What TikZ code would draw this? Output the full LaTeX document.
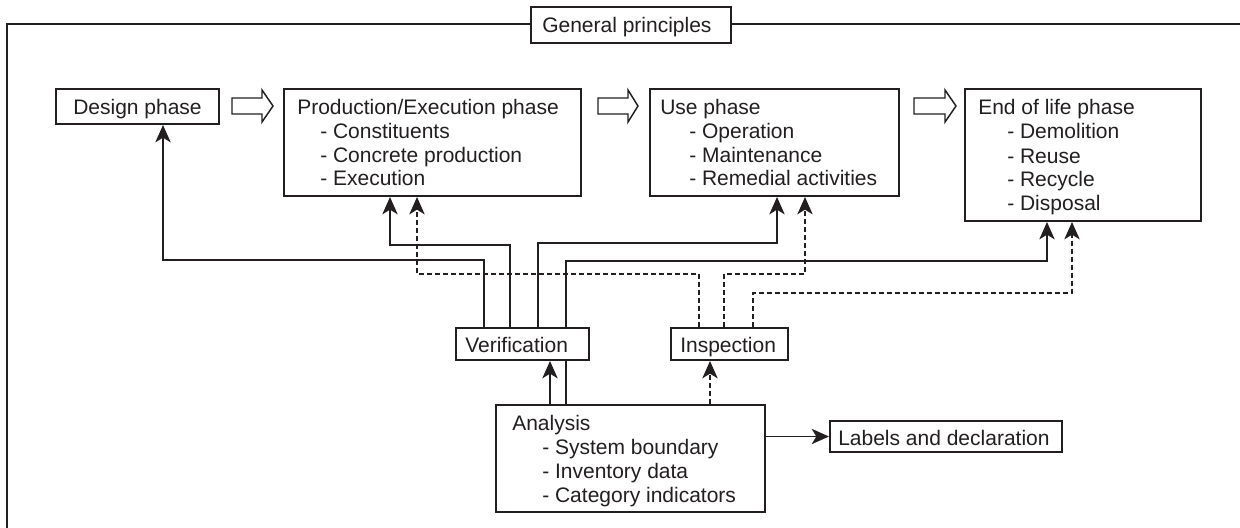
\documentclass[tikz,border=0pt]{standalone}
\usepackage{fontspec}
\setmainfont{Liberation Sans}
\usetikzlibrary{fit,arrows.meta}
\definecolor{ink}{HTML}{231F20}
\begin{document}
\begin{tikzpicture}[x=0.75pt,y=-0.75pt,color=ink,
  box/.style={draw=ink,line width=1.5pt,inner sep=0pt,fill=white},
  txt/.style={inner sep=0pt,text=ink,font=\fontsize{15.75}{18}\selectfont},
  conn/.style={draw=ink,line width=1.1pt},
  arr/.style={conn,-{Stealth[length=13pt,width=11.5pt,inset=3.5pt]}},
  dsh/.style={dash pattern=on 3.75pt off 2.25pt},
  hollow/.style={draw=ink,line width=1.1pt,fill=white,line join=miter}]
\useasboundingbox (0,0) rectangle (1240,528);
% frame
\draw[ink,line width=1.2pt] (1240,24) -- (7,24) -- (7,528);
% boxes
\node[box,fit={(531,7) (731,43)}] (gp) {};
\node[txt,anchor=base west] at (542,33) {General principles};
\node[box,fit={(56,89) (219,124)}] (design) {};
\node[txt,anchor=base west] at (73,115) {Design phase};
\node[box,fit={(284,89) (581,196)}] (prod) {};
\node[txt,anchor=base west] at (297,114) {\begin{tabular}[t]{@{}l@{}}Production/Execution phase\\
  \hspace*{17.25pt}- Constituents\\ \hspace*{17.25pt}- Concrete production\\ \hspace*{17.25pt}- Execution\end{tabular}};
\node[box,fit={(650,89) (899,196)}] (use) {};
\node[txt,anchor=base west] at (660,114) {\begin{tabular}[t]{@{}l@{}}Use phase\\
  \hspace*{21.75pt}- Operation\\ \hspace*{21.75pt}- Maintenance\\ \hspace*{21.75pt}- Remedial activities\end{tabular}};
\node[box,fit={(965,89) (1201,221)}] (eol) {};
\node[txt,anchor=base west] at (978,115) {\begin{tabular}[t]{@{}l@{}}End of life phase\\
  \hspace*{21.75pt}- Demolition\\ \hspace*{21.75pt}- Reuse\\ \hspace*{21.75pt}- Recycle\\ \hspace*{21.75pt}- Disposal\end{tabular}};
\node[box,fit={(456,328) (589,360)}] (verif) {};
\node[txt,anchor=base west] at (465,352) {Verification};
\node[box,fit={(671,328) (788,360)}] (insp) {};
\node[txt,anchor=base west] at (680,352) {Inspection};
\node[box,fit={(496,405) (765,512)}] (analysis) {};
\node[txt,anchor=base west] at (512,430) {\begin{tabular}[t]{@{}l@{}}Analysis\\
  \hspace*{22.5pt}- System boundary\\ \hspace*{22.5pt}- Inventory data\\ \hspace*{22.5pt}- Category indicators\end{tabular}};
\node[box,fit={(830,421) (1062,452)}] (labels) {};
\node[txt,anchor=base west] at (838,445) {Labels and declaration};
% hollow arrows
\draw[hollow] (232,98) -- (262,98) -- (262,90) -- (273,106) -- (262,122) -- (262,114) -- (232,114) -- cycle;
\draw[hollow] (598,98) -- (628,98) -- (628,90) -- (638,106) -- (628,122) -- (628,114) -- (598,114) -- cycle;
\draw[hollow] (914,98) -- (945,98) -- (945,90) -- (956,106) -- (945,122) -- (945,114) -- (914,114) -- cycle;
% lanes
\coordinate (vA) at (484,0); \coordinate (vB) at (510,0); \coordinate (vC) at (538,0);
\coordinate (vD) at (566,0); \coordinate (vE) at (550,0);
\coordinate (iA) at (699,0); \coordinate (iB) at (724,0); \coordinate (iC) at (753,0); \coordinate (iD) at (710,0);
\coordinate (tD) at (163,0); \coordinate (tP1) at (390,0); \coordinate (tP2) at (417,0);
\coordinate (tU1) at (777,0); \coordinate (tU2) at (805,0); \coordinate (tE1) at (1047,0); \coordinate (tE2) at (1072,0);
\coordinate (hD) at (0,260); \coordinate (hP1) at (0,245); \coordinate (hU1) at (0,243);
\coordinate (hE1) at (0,261); \coordinate (hP2) at (0,274); \coordinate (hE2) at (0,293);
% verification connectors
\draw[arr] (verif.north -| vA) |- (hD -| tD) -- (design.south -| tD);
\draw[arr] (verif.north -| vB) |- (hP1 -| tP1) -- (prod.south -| tP1);
\draw[arr] (verif.north -| vC) |- (hU1 -| tU1) -- (use.south -| tU1);
\draw[arr] (verif.north -| vD) |- (hE1 -| tE1) -- (eol.south -| tE1);
% inspection connectors
\draw[arr,dsh] (insp.north -| iA) |- (hP2 -| tP2) -- (prod.south -| tP2);
\draw[arr,dsh] (insp.north -| iB) |- (hP2 -| tU2) -- (use.south -| tU2);
\draw[arr,dsh] (insp.north -| iC) |- (hE2 -| tE2) -- (eol.south -| tE2);
% analysis connectors
\draw[arr] (analysis.north -| vE) -- (verif.south -| vE);
\draw[conn] (analysis.north -| vD) -- (verif.south -| vD);
\draw[arr,dsh] (analysis.north -| iD) -- (insp.south -| iD);
\draw[arr] (analysis.east |- labels.west) -- (labels.west);
\end{tikzpicture}
\end{document}
